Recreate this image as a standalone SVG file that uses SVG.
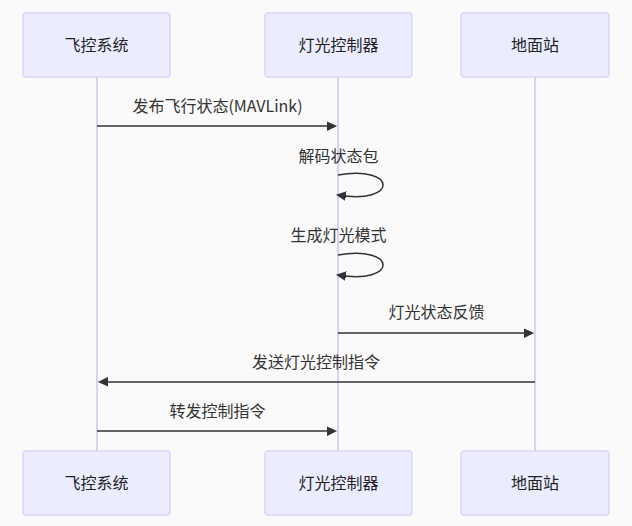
<svg xmlns="http://www.w3.org/2000/svg" width="632" height="526" viewBox="0 0 632 526">
<style>
.bg{fill:#fafafa}
.actor rect{fill:#ececff;stroke:#dcd4f6;stroke-width:1.5}
.actor text,.lbl{font-family:"Noto Sans CJK SC","Liberation Sans",sans-serif;font-size:16px;fill:#333;text-anchor:middle}
.actor text{fill:#222}
.life{stroke:#d9d0f6;stroke-width:2}
.msg{stroke:#333;stroke-width:1.5;fill:none}
</style>
<defs>
<marker id="arrow" viewBox="0 0 12 12" markerWidth="12" markerHeight="12" refX="7.9" refY="5" orient="auto" markerUnits="userSpaceOnUse">
<path d="M -1 0 L 10 5 L 0 10 z" fill="#333"/>
</marker>
</defs>
<rect class="bg" x="0" y="0" width="632" height="526"/>
<g id="lifelines">
<line class="life" x1="97" y1="77" x2="97" y2="451"/>
<line class="life" x1="338" y1="77" x2="338" y2="451"/>
<line class="life" x1="535" y1="77" x2="535" y2="451"/>
</g>
<g id="actor-fc-top" class="actor"><rect x="23" y="13" width="147" height="64" rx="3"/><text x="96.5" y="51">飞控系统</text></g>
<g id="actor-lc-top" class="actor"><rect x="265" y="13" width="147" height="64" rx="3"/><text x="338.5" y="51">灯光控制器</text></g>
<g id="actor-gs-top" class="actor"><rect x="461" y="13" width="148" height="64" rx="3"/><text x="535" y="51">地面站</text></g>
<g id="actor-fc-bottom" class="actor"><rect x="23" y="451" width="147" height="64" rx="3"/><text x="96.5" y="489">飞控系统</text></g>
<g id="actor-lc-bottom" class="actor"><rect x="265" y="451" width="147" height="64" rx="3"/><text x="338.5" y="489">灯光控制器</text></g>
<g id="actor-gs-bottom" class="actor"><rect x="461" y="451" width="148" height="64" rx="3"/><text x="535" y="489">地面站</text></g>
<g id="connectors">
<text class="lbl" x="217.5" y="112">发布飞行状态(MAVLink)</text>
<line class="msg" x1="97" y1="126" x2="335" y2="126" marker-end="url(#arrow)"/>
<text class="lbl" x="338.5" y="162">解码状态包</text>
<path class="msg" d="M 338,175 C 398,165 398,205 338,195" marker-end="url(#arrow)"/>
<text class="lbl" x="338.5" y="241">生成灯光模式</text>
<path class="msg" d="M 338,255 C 398,245 398,285 338,275" marker-end="url(#arrow)"/>
<text class="lbl" x="436.5" y="318">灯光状态反馈</text>
<line class="msg" x1="338" y1="333" x2="532" y2="333" marker-end="url(#arrow)"/>
<text class="lbl" x="316" y="368">发送灯光控制指令</text>
<line class="msg" x1="535" y1="382" x2="100" y2="382" marker-end="url(#arrow)"/>
<text class="lbl" x="217.5" y="417">转发控制指令</text>
<line class="msg" x1="97" y1="431" x2="335" y2="431" marker-end="url(#arrow)"/>
</g>
</svg>
